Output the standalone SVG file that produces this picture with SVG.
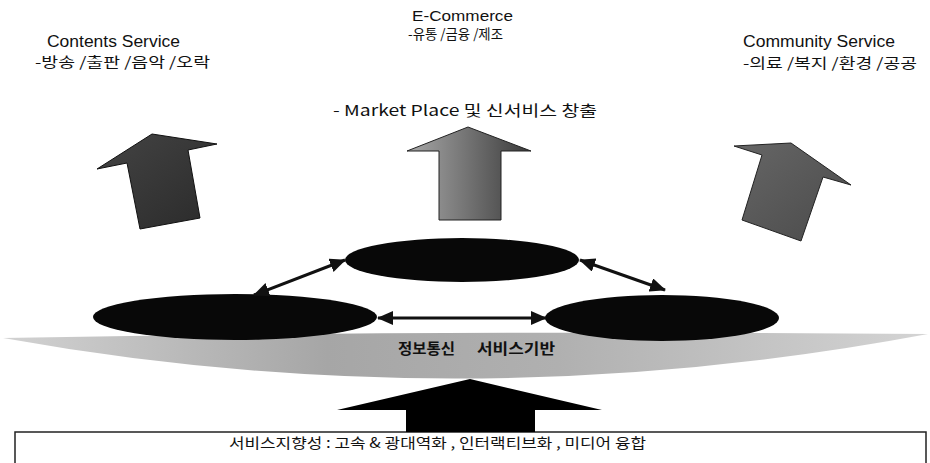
<svg xmlns="http://www.w3.org/2000/svg" width="930" height="463" viewBox="0 0 930 463">
<defs>
<style>
.lbl{font-family:"Liberation Sans","Noto Sans CJK KR",sans-serif;fill:#111;}
.kr{font-family:"Noto Sans CJK KR","Liberation Sans",sans-serif;fill:#111;}
.oval{fill:#080808;}
.conn{stroke:#111;stroke-width:3;fill:none;marker-start:url(#ah);marker-end:url(#ah);}
</style>
<marker id="ah" viewBox="0 0 16 14" refX="15" refY="7" markerWidth="16" markerHeight="14" markerUnits="userSpaceOnUse" orient="auto-start-reverse">
<path d="M0,0 L16,7 L0,14 Z" fill="#111"/>
</marker>
<linearGradient id="gMid" x1="0" y1="0" x2="1" y2="0">
<stop offset="0" stop-color="#a8a8a8"/>
<stop offset="0.45" stop-color="#777"/>
<stop offset="1" stop-color="#3a3a3a"/>
</linearGradient>
<linearGradient id="gLeft" x1="0" y1="0" x2="1" y2="1">
<stop offset="0" stop-color="#444"/>
<stop offset="1" stop-color="#2a2a2a"/>
</linearGradient>
<linearGradient id="gRight" x1="0" y1="0" x2="1" y2="1">
<stop offset="0" stop-color="#666"/>
<stop offset="1" stop-color="#4a4a4a"/>
</linearGradient>
<linearGradient id="gBand" x1="0" y1="0" x2="1" y2="0">
<stop offset="0" stop-color="#d2d2d2"/>
<stop offset="0.35" stop-color="#a6a6a6"/>
<stop offset="0.6" stop-color="#b0b0b0"/>
<stop offset="1" stop-color="#d4d4d4"/>
</linearGradient>
</defs>

<g id="labels-top">
<text class="lbl" x="47" y="47" font-size="16" textLength="133" lengthAdjust="spacingAndGlyphs">Contents Service</text>
<text class="kr" x="35" y="67" font-size="14" textLength="175" lengthAdjust="spacingAndGlyphs">-방송 /출판 /음악 /오락</text>
<text class="lbl" x="412" y="21" font-size="15" textLength="101" lengthAdjust="spacingAndGlyphs">E-Commerce</text>
<text class="kr" x="408" y="39" font-size="13.5" textLength="95" lengthAdjust="spacingAndGlyphs">-유통 /금융 /제조</text>
<text class="lbl" x="743" y="47" font-size="16" textLength="152" lengthAdjust="spacingAndGlyphs">Community Service</text>
<text class="kr" x="743" y="68" font-size="14" textLength="174" lengthAdjust="spacingAndGlyphs">-의료 /복지 /환경 /공공</text>
<text class="kr" x="333" y="116" font-size="15" textLength="264" lengthAdjust="spacingAndGlyphs">- Market Place  및 신서비스  창출</text>
</g>

<g id="arrow-left">
<polygon points="152,134 217,144 188,150 200,218 140,229 127,163 97,169" fill="url(#gLeft)" stroke="#111" stroke-width="1"/>
</g>
<g id="arrow-mid">
<polygon points="468,127 531,151 501,151 501,220 439,220 439,151 407,151" fill="url(#gMid)" stroke="#222" stroke-width="1"/>
</g>
<g id="arrow-right">
<polygon points="791,143 851,185 823,177 801,241 742,220 762,155 734,146" fill="url(#gRight)" stroke="#222" stroke-width="1"/>
</g>

<g id="platform">
<path d="M3,338 Q465,330 928,334 Q465,421 3,338 Z" fill="url(#gBand)"/>
</g>

<g id="node-left"><ellipse class="oval" cx="235" cy="317" rx="142" ry="23"/></g>
<g id="node-top"><ellipse class="oval" cx="462" cy="260" rx="117" ry="22" fill="#111"/></g>
<g id="node-right"><ellipse class="oval" cx="662" cy="318" rx="117" ry="23"/></g>

<g id="platform-label">
<text class="kr" x="398" y="354" font-size="15" font-weight="bold" fill="#222" textLength="57" lengthAdjust="spacingAndGlyphs">정보통신</text>
<text class="kr" x="477" y="354" font-size="15" font-weight="bold" fill="#222" textLength="78" lengthAdjust="spacingAndGlyphs">서비스기반</text>
</g>

<g id="connectors">
<line class="conn" x1="254" y1="295" x2="345" y2="260"/>
<line class="conn" x1="580" y1="260" x2="665" y2="290"/>
<line class="conn" x1="378" y1="318" x2="546" y2="318"/>
</g>

<g id="base-box">
<path d="M15,463 L15,432 L926,432 L926,463" fill="#fff" stroke="#222" stroke-width="1.5"/>
<text class="kr" x="229" y="448" font-size="14" textLength="417" lengthAdjust="spacingAndGlyphs">서비스지향성  : 고속 &amp; 광대역화 , 인터랙티브화 , 미디어  융합</text>
</g>

<g id="arrow-bottom">
<polygon points="470,379 602,410 535,410 535,432 406,432 406,410 337,410" fill="#000"/>
</g>
</svg>
